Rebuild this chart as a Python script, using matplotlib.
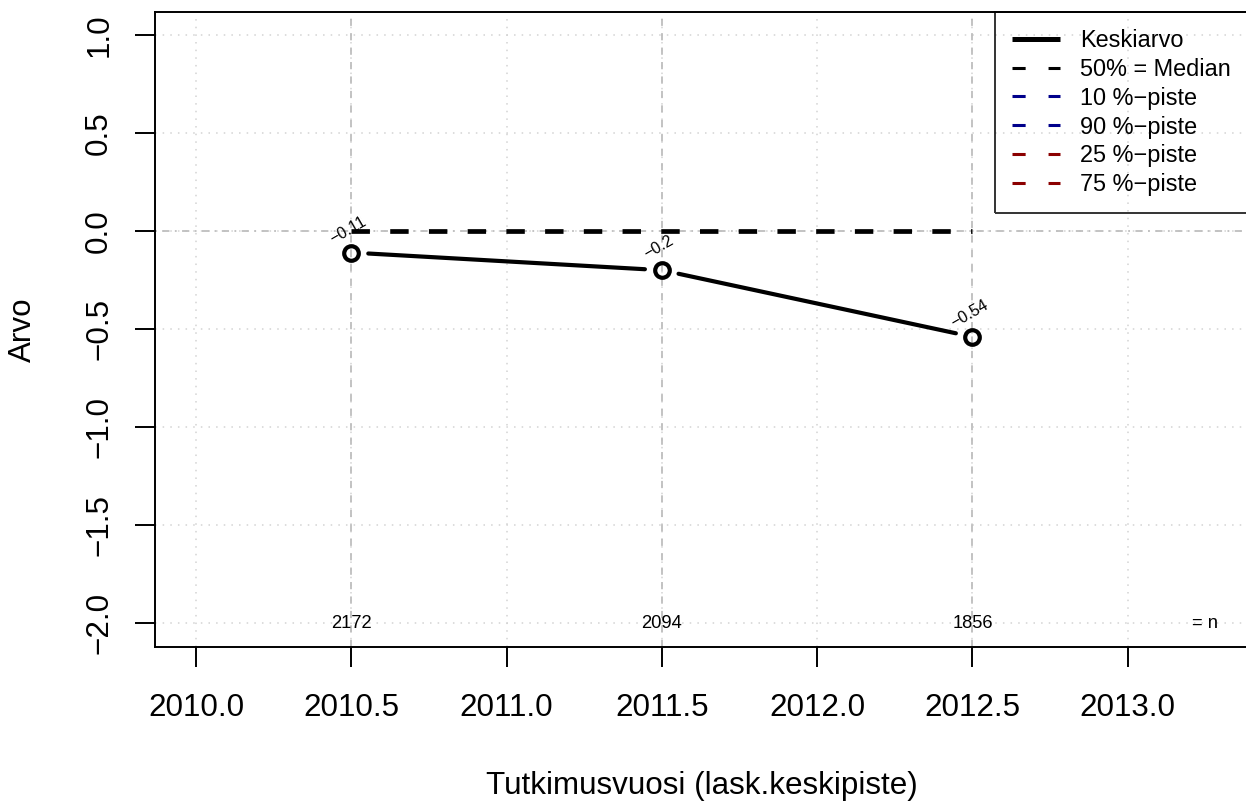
import numpy as np
import matplotlib
matplotlib.use("Agg")
import matplotlib.pyplot as plt
from matplotlib.lines import Line2D

plt.rcParams['font.family'] = ['Liberation Sans', 'DejaVu Sans']

# --- Data ---
vuodet = [2010.5, 2011.5, 2012.5]
keskiarvo = [-0.11, -0.2, -0.54]
mediaani = [0.0, 0.0, 0.0]
n_havainnot = [2172, 2094, 1856]
x_ticks = [2010.0, 2010.5, 2011.0, 2011.5, 2012.0, 2012.5, 2013.0]
y_ticks = [1.0, 0.5, 0.0, -0.5, -1.0, -1.5, -2.0]
legend_labels = ["Keskiarvo", "50% = Median", "10 %\u2212piste", "90 %\u2212piste",
                 "25 %\u2212piste", "75 %\u2212piste"]
legend_colors = ["black", "black", "#00008B", "#00008B", "#8B0000", "#8B0000"]


def fmt(v):
    # R-tyylinen miinusmerkki
    return f"{v:g}".replace("-", "\u2212")


fig = plt.figure(figsize=(12.46, 8.01), dpi=100)
ax = fig.add_axes([155 / 1246, 154 / 801, (1248 - 155) / 1246, (647 - 12) / 801])
ax.set_xlim(2009.868, 2013.387)
ax.set_ylim(-2.122, 1.117)

# grid (dotted) + reference lines
for xv in x_ticks:
    ax.axvline(xv, color="#D3D3D3", lw=1.1, ls=(0, (1, 4)), zorder=1)
for yv in y_ticks:
    ax.axhline(yv, color="#D3D3D3", lw=1.1, ls=(0, (1, 4)), zorder=1)
for xv in vuodet:
    ax.axvline(xv, color="#BEBEBE", lw=1.3, ls=(0, (4, 4)), zorder=1)
ax.axhline(0.0, color="#BEBEBE", lw=1.3, ls=(0, (1, 3, 4, 3)), zorder=1)

# median (dashed)
ax.plot(vuodet, mediaani, color="black", lw=3.4, ls=(0, (3.9, 4.3)),
        dash_capstyle="butt", zorder=3)

# mean line with gaps around points (type = "b")
gap = 17.0
pts = ax.transData.transform(np.column_stack([vuodet, keskiarvo]))
for (x0, y0), (x1, y1) in zip(pts[:-1], pts[1:]):
    d = np.hypot(x1 - x0, y1 - y0)
    ux, uy = (x1 - x0) / d, (y1 - y0) / d
    seg = np.array([[x0 + ux * gap, y0 + uy * gap], [x1 - ux * gap, y1 - uy * gap]])
    seg = ax.transData.inverted().transform(seg)
    ax.plot(seg[:, 0], seg[:, 1], color="black", lw=3.0, solid_capstyle="round", zorder=4)
ax.plot(vuodet, keskiarvo, ls="none", marker="o", ms=10.5, mew=3.0,
        mfc="none", mec="black", zorder=5)

# point value labels
for xv, yv in zip(vuodet, keskiarvo):
    ax.text(xv - 0.01, yv + 0.115, fmt(yv), rotation=30, ha="center", va="center",
            fontsize=11.5, zorder=6)

# n labels
for xv, nv in zip(vuodet, n_havainnot):
    ax.text(xv, -2.0, str(nv), ha="center", va="center", fontsize=13.2, zorder=6)
ax.text(2013.25, -2.0, "= n", ha="center", va="center", fontsize=13.2, zorder=6)

# axes styling
ax.set_xticks(x_ticks)
ax.set_xticklabels([f"{v:.1f}" for v in x_ticks])
ax.set_yticks(y_ticks)
ax.set_yticklabels([f"{v:.1f}".replace("-", "\u2212") for v in y_ticks],
                   rotation=90, va="center")
ax.tick_params(direction="out", length=14.4, width=1.4, labelsize=22.6)
ax.tick_params(axis="x", pad=19)
ax.tick_params(axis="y", pad=15)
for side in ["left", "bottom", "top"]:
    ax.spines[side].set_linewidth(1.4)
ax.spines["right"].set_visible(False)
ax.set_xlabel("Tutkimusvuosi (lask.keskipiste)", fontsize=22.6, labelpad=34)
ax.set_ylabel("Arvo", fontsize=22.6, labelpad=33)

# legend
handles = []
for i, c in enumerate(legend_colors):
    if i == 0:
        handles.append(Line2D([], [], color=c, lw=3.6, solid_capstyle="butt"))
    else:
        handles.append(Line2D([], [], color=c, lw=2.2, ls=(0, (4.3, 7.5)),
                              dash_capstyle="butt"))
leg = ax.legend(handles, legend_labels, loc="upper left",
                bbox_to_anchor=(995 / 1246, 1 - 12 / 801),
                bbox_transform=fig.transFigure, borderaxespad=0,
                fontsize=16.9, handlelength=2.07, handletextpad=0.85,
                borderpad=0.72, labelspacing=0.25, fancybox=False,
                frameon=True, facecolor="none", edgecolor="black")
leg.get_frame().set_linewidth(1.4)
leg.set_zorder(7)

fig.savefig("out.png", dpi=100)
